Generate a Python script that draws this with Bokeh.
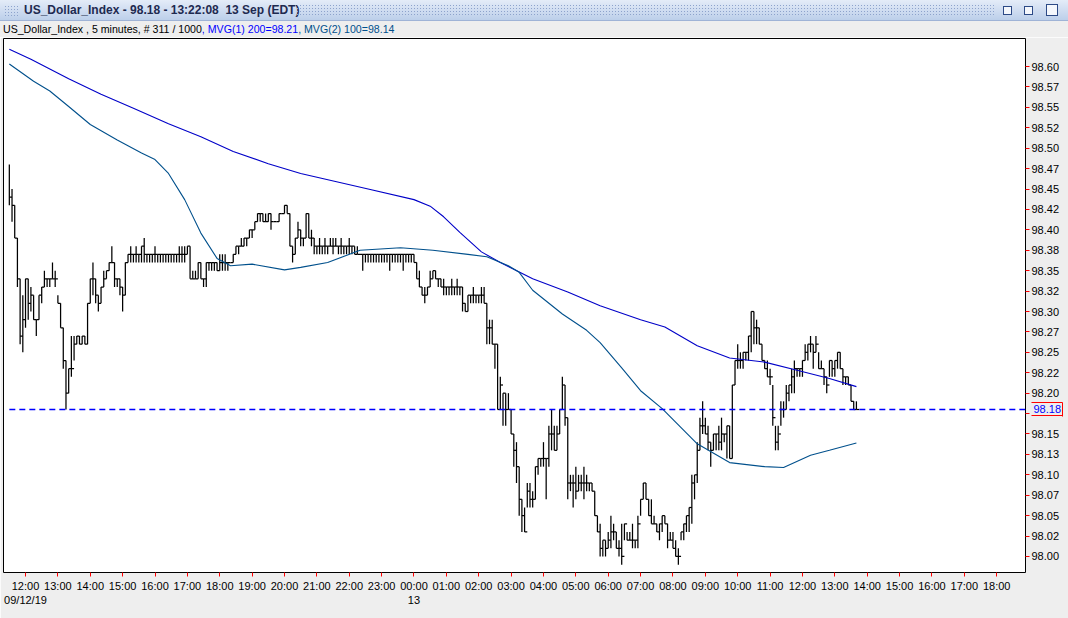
from bokeh.plotting import figure
from bokeh.models import FixedTicker, Div, Range1d, LinearAxis
from bokeh.layouts import column
from bokeh.embed import file_html
from bokeh.resources import INLINE

# ---------------- data (5-minute bars) ----------------
bar_high = [
    98.48, 98.45, 98.43, 98.39, 98.34, 98.32, 98.34, 98.34, 98.33, 98.32, 98.29, 98.32, 98.33, 98.35, 98.34,
    98.34, 98.36, 98.35, 98.32, 98.31, 98.28, 98.24, 98.23, 98.27, 98.27, 98.27, 98.27, 98.27, 98.27, 98.31,
    98.34, 98.36, 98.34, 98.32, 98.33, 98.35, 98.35, 98.36, 98.38, 98.36, 98.34, 98.34, 98.33, 98.36, 98.37,
    98.38, 98.37, 98.38, 98.37, 98.38, 98.39, 98.37, 98.37, 98.37, 98.38, 98.37, 98.37, 98.37, 98.37, 98.37,
    98.37, 98.37, 98.37, 98.38, 98.38, 98.38, 98.38, 98.38, 98.35, 98.35, 98.36, 98.36, 98.34, 98.36, 98.36,
    98.36, 98.36, 98.36, 98.37, 98.37, 98.37, 98.36, 98.36, 98.37, 98.38, 98.38, 98.39, 98.39, 98.39, 98.40,
    98.40, 98.41, 98.42, 98.42, 98.42, 98.42, 98.42, 98.42, 98.41, 98.41, 98.42, 98.42, 98.43, 98.43, 98.42,
    98.38, 98.39, 98.41, 98.40, 98.39, 98.42, 98.42, 98.40, 98.39, 98.38, 98.39, 98.38, 98.39, 98.38, 98.39,
    98.39, 98.39, 98.38, 98.39, 98.38, 98.38, 98.39, 98.38, 98.38, 98.38, 98.37, 98.37, 98.37, 98.37, 98.37,
    98.37, 98.37, 98.37, 98.37, 98.37, 98.37, 98.37, 98.37, 98.37, 98.37, 98.37, 98.37, 98.37, 98.37, 98.37,
    98.37, 98.36, 98.35, 98.33, 98.33, 98.33, 98.35, 98.35, 98.35, 98.34, 98.34, 98.34, 98.33, 98.33, 98.34,
    98.33, 98.34, 98.33, 98.33, 98.31, 98.32, 98.32, 98.33, 98.32, 98.32, 98.33, 98.33, 98.31, 98.29, 98.29,
    98.26, 98.26, 98.22, 98.20, 98.20, 98.20, 98.18, 98.15, 98.14, 98.11, 98.07, 98.06, 98.09, 98.09, 98.08,
    98.11, 98.12, 98.12, 98.14, 98.12, 98.16, 98.18, 98.16, 98.16, 98.18, 98.22, 98.21, 98.17, 98.10, 98.10,
    98.11, 98.10, 98.10, 98.11, 98.10, 98.09, 98.09, 98.08, 98.05, 98.04, 98.02, 98.02, 98.03, 98.05, 98.04,
    98.03, 98.02, 98.04, 98.04, 98.03, 98.03, 98.04, 98.02, 98.05, 98.07, 98.09, 98.09, 98.07, 98.07, 98.05,
    98.04, 98.04, 98.05, 98.05, 98.04, 98.03, 98.03, 98.02, 98.01, 98.03, 98.04, 98.05, 98.06, 98.10, 98.10,
    98.14, 98.17, 98.19, 98.17, 98.16, 98.14, 98.15, 98.15, 98.16, 98.17, 98.15, 98.16, 98.16, 98.21, 98.24,
    98.26, 98.25, 98.25, 98.25, 98.27, 98.30, 98.30, 98.29, 98.28, 98.26, 98.24, 98.24, 98.23, 98.21, 98.16,
    98.16, 98.19, 98.19, 98.21, 98.21, 98.23, 98.24, 98.23, 98.23, 98.24, 98.26, 98.26, 98.27, 98.26, 98.27,
    98.25, 98.24, 98.23, 98.22, 98.24, 98.24, 98.24, 98.25, 98.25, 98.23, 98.22, 98.22, 98.21, 98.19, 98.19,
]
bar_low = [
    98.43, 98.41, 98.39, 98.33, 98.26, 98.25, 98.28, 98.29, 98.30, 98.29, 98.27, 98.29, 98.31, 98.33, 98.33,
    98.33, 98.34, 98.33, 98.31, 98.28, 98.23, 98.18, 98.20, 98.22, 98.24, 98.26, 98.26, 98.26, 98.26, 98.26,
    98.31, 98.32, 98.31, 98.30, 98.31, 98.33, 98.34, 98.35, 98.36, 98.33, 98.33, 98.32, 98.30, 98.32, 98.36,
    98.36, 98.36, 98.36, 98.36, 98.36, 98.36, 98.36, 98.36, 98.36, 98.36, 98.36, 98.36, 98.36, 98.36, 98.36,
    98.36, 98.36, 98.36, 98.36, 98.36, 98.36, 98.37, 98.34, 98.34, 98.34, 98.34, 98.34, 98.33, 98.33, 98.35,
    98.35, 98.35, 98.35, 98.35, 98.35, 98.35, 98.35, 98.36, 98.36, 98.37, 98.37, 98.38, 98.38, 98.38, 98.39,
    98.39, 98.40, 98.41, 98.41, 98.41, 98.41, 98.41, 98.40, 98.41, 98.41, 98.41, 98.42, 98.42, 98.42, 98.38,
    98.36, 98.37, 98.39, 98.38, 98.38, 98.39, 98.39, 98.38, 98.37, 98.37, 98.37, 98.37, 98.37, 98.37, 98.38,
    98.37, 98.38, 98.37, 98.37, 98.37, 98.37, 98.37, 98.37, 98.37, 98.37, 98.37, 98.35, 98.36, 98.36, 98.36,
    98.36, 98.36, 98.36, 98.36, 98.36, 98.36, 98.35, 98.36, 98.36, 98.36, 98.36, 98.35, 98.36, 98.36, 98.36,
    98.36, 98.34, 98.33, 98.32, 98.31, 98.32, 98.33, 98.34, 98.34, 98.33, 98.33, 98.32, 98.32, 98.32, 98.32,
    98.32, 98.32, 98.32, 98.30, 98.30, 98.30, 98.31, 98.31, 98.31, 98.31, 98.31, 98.31, 98.26, 98.26, 98.26,
    98.23, 98.18, 98.18, 98.16, 98.16, 98.18, 98.15, 98.11, 98.09, 98.05, 98.03, 98.03, 98.06, 98.06, 98.06,
    98.07, 98.10, 98.11, 98.11, 98.07, 98.11, 98.13, 98.13, 98.13, 98.15, 98.18, 98.16, 98.07, 98.08, 98.06,
    98.07, 98.08, 98.08, 98.07, 98.08, 98.08, 98.08, 98.05, 98.03, 98.00, 98.00, 98.00, 98.01, 98.01, 98.02,
    98.01, 98.00, 97.99, 98.02, 98.02, 98.02, 98.01, 98.01, 98.01, 98.05, 98.07, 98.07, 98.05, 98.04, 98.04,
    98.03, 98.02, 98.03, 98.04, 98.01, 98.02, 98.01, 98.00, 97.99, 98.02, 98.02, 98.03, 98.03, 98.04, 98.07,
    98.09, 98.13, 98.15, 98.15, 98.13, 98.11, 98.13, 98.13, 98.13, 98.13, 98.14, 98.12, 98.12, 98.12, 98.21,
    98.23, 98.23, 98.23, 98.24, 98.24, 98.25, 98.26, 98.26, 98.26, 98.24, 98.23, 98.22, 98.21, 98.16, 98.13,
    98.13, 98.16, 98.17, 98.18, 98.19, 98.20, 98.20, 98.22, 98.22, 98.22, 98.24, 98.24, 98.25, 98.23, 98.25,
    98.23, 98.23, 98.21, 98.20, 98.22, 98.22, 98.22, 98.23, 98.23, 98.21, 98.21, 98.21, 98.19, 98.18, 98.18,
]
bar_close = [
    98.44, 98.43, 98.39, 98.34, 98.27, 98.29, 98.34, 98.31, 98.32, 98.29, 98.29, 98.32, 98.33, 98.34, 98.34,
    98.34, 98.34, 98.34, 98.31, 98.28, 98.24, 98.20, 98.23, 98.23, 98.26, 98.27, 98.26, 98.27, 98.26, 98.31,
    98.34, 98.34, 98.32, 98.31, 98.33, 98.34, 98.35, 98.36, 98.36, 98.34, 98.34, 98.33, 98.32, 98.36, 98.37,
    98.37, 98.37, 98.37, 98.37, 98.38, 98.37, 98.37, 98.37, 98.37, 98.37, 98.37, 98.37, 98.37, 98.37, 98.37,
    98.37, 98.37, 98.37, 98.37, 98.37, 98.37, 98.38, 98.34, 98.34, 98.34, 98.36, 98.34, 98.34, 98.36, 98.36,
    98.36, 98.36, 98.35, 98.36, 98.36, 98.36, 98.36, 98.36, 98.37, 98.38, 98.38, 98.38, 98.39, 98.39, 98.40,
    98.40, 98.41, 98.42, 98.42, 98.41, 98.41, 98.42, 98.41, 98.41, 98.41, 98.42, 98.42, 98.43, 98.42, 98.38,
    98.37, 98.39, 98.40, 98.39, 98.39, 98.42, 98.39, 98.39, 98.38, 98.38, 98.38, 98.38, 98.38, 98.38, 98.38,
    98.38, 98.38, 98.38, 98.38, 98.38, 98.38, 98.38, 98.38, 98.37, 98.37, 98.37, 98.37, 98.37, 98.37, 98.37,
    98.37, 98.37, 98.37, 98.37, 98.37, 98.37, 98.37, 98.37, 98.37, 98.37, 98.37, 98.37, 98.37, 98.37, 98.37,
    98.36, 98.34, 98.33, 98.32, 98.32, 98.33, 98.34, 98.35, 98.34, 98.34, 98.33, 98.33, 98.33, 98.33, 98.33,
    98.33, 98.33, 98.33, 98.31, 98.30, 98.32, 98.32, 98.32, 98.32, 98.32, 98.32, 98.31, 98.28, 98.28, 98.26,
    98.26, 98.18, 98.21, 98.20, 98.18, 98.18, 98.15, 98.13, 98.11, 98.07, 98.05, 98.03, 98.08, 98.07, 98.07,
    98.11, 98.12, 98.12, 98.12, 98.12, 98.15, 98.15, 98.13, 98.15, 98.18, 98.21, 98.17, 98.09, 98.09, 98.09,
    98.08, 98.09, 98.09, 98.09, 98.09, 98.09, 98.08, 98.05, 98.03, 98.01, 98.02, 98.01, 98.02, 98.03, 98.03,
    98.01, 98.01, 98.00, 98.04, 98.02, 98.02, 98.02, 98.02, 98.04, 98.07, 98.09, 98.07, 98.05, 98.04, 98.04,
    98.03, 98.04, 98.05, 98.04, 98.02, 98.02, 98.01, 98.00, 98.00, 98.03, 98.04, 98.05, 98.06, 98.09, 98.10,
    98.13, 98.16, 98.16, 98.15, 98.14, 98.13, 98.15, 98.15, 98.14, 98.15, 98.15, 98.16, 98.12, 98.21, 98.24,
    98.24, 98.24, 98.25, 98.25, 98.27, 98.30, 98.28, 98.28, 98.26, 98.24, 98.23, 98.22, 98.22, 98.17, 98.14,
    98.15, 98.18, 98.18, 98.20, 98.21, 98.22, 98.23, 98.23, 98.23, 98.24, 98.25, 98.26, 98.26, 98.25, 98.26,
    98.23, 98.23, 98.22, 98.21, 98.24, 98.23, 98.24, 98.25, 98.23, 98.22, 98.22, 98.21, 98.19, 98.18, 98.18,
]
first_bar_hour = -0.5          # 11:30 on 09/12/19, hours relative to 12:00
bar_minutes = 5

# moving averages, sampled at bar indices
mvg200_idx = [0, 8, 22, 34, 46, 59, 71, 83, 96, 108, 133, 150, 156, 161, 167, 175, 182, 194, 207, 219,
              234, 243, 255, 267, 280, 292, 304, 314]
mvg200_val = [98.621, 98.609, 98.585, 98.566, 98.549, 98.530, 98.514, 98.496, 98.481, 98.469, 98.450,
              98.437, 98.429, 98.416, 98.397, 98.373, 98.360, 98.340, 98.324, 98.307, 98.290, 98.281,
              98.258, 98.243, 98.238, 98.228, 98.218, 98.208]
mvg100_idx = [0, 9, 15, 22, 30, 40, 49, 54, 59, 65, 71, 77, 82, 90, 102, 108, 118, 130, 145, 157, 170,
              177, 185, 189, 194, 205, 214, 219, 227, 234, 242, 255, 267, 280, 287, 297, 304, 314]
mvg100_val = [98.603, 98.582, 98.570, 98.551, 98.529, 98.510, 98.494, 98.486, 98.469, 98.437, 98.396,
              98.365, 98.356, 98.358, 98.351, 98.354, 98.360, 98.375, 98.378, 98.375, 98.370, 98.367,
              98.356, 98.348, 98.326, 98.297, 98.277, 98.262, 98.231, 98.203, 98.181, 98.138, 98.115,
              98.110, 98.109, 98.124, 98.130, 98.139]
last_price = 98.18

x_tick_hours = list(range(31))
x_tick_labels = ["12:00\n09/12/19", "13:00", "14:00", "15:00", "16:00", "17:00", "18:00", "19:00",
                 "20:00", "21:00", "22:00", "23:00", "00:00\n13", "01:00", "02:00", "03:00", "04:00",
                 "05:00", "06:00", "07:00", "08:00", "09:00", "10:00", "11:00", "12:00", "13:00",
                 "14:00", "15:00", "16:00", "17:00", "18:00"]
y_tick_labels = ["98.00", "98.02", "98.05", "98.07", "98.10", "98.13", "98.15", "98.17", "98.20",
                 "98.22", "98.25", "98.27", "98.30", "98.32", "98.35", "98.38", "98.40", "98.42",
                 "98.45", "98.47", "98.50", "98.52", "98.55", "98.57", "98.60"]
y_tick_values = [98.0 + 0.025 * k for k in range(len(y_tick_labels))]
last_price_label = "98.18"

title_text = "US_Dollar_Index - 98.18 - 13:22:08&nbsp;&nbsp;13 Sep (EDT)"
info_black = "US_Dollar_Index , 5 minutes, # 311 / 1000"
info_mvg1 = ", MVG(1) 200=98.21"
info_mvg2 = ", MVG(2) 100=98.14"

FONT = "Liberation Sans"

# ---------------- derived x positions ----------------
step = bar_minutes / 60.0
bar_x = [first_bar_hour + i * step for i in range(len(bar_close))]
bar_x_next = [x + step for x in bar_x]
mvg200_x = [first_bar_hour + i * step for i in mvg200_idx]
mvg100_x = [first_bar_hour + i * step for i in mvg100_idx]

X_START, X_END = -0.68, 30.89
Y_START, Y_END = 97.9804, 98.6343

p = figure(width=1068, height=581, output_backend="svg", toolbar_location=None,
           x_range=Range1d(X_START, X_END), y_range=Range1d(Y_START, Y_END),
           y_axis_location="right", min_border_top=1, min_border_left=3,
           min_border_right=43, min_border_bottom=46, margin=(0, 0, 0, 0))
p.background_fill_color = "white"
p.border_fill_color = "#eeeeee"
p.outline_line_color = "black"
p.outline_line_width = 1
p.xgrid.visible = False
p.ygrid.visible = False

# OHLC bars: high-low stems and close ticks
p.segment(x0=bar_x, y0=bar_low, x1=bar_x, y1=bar_high, line_color="black", line_width=1.25)
p.segment(x0=bar_x, y0=bar_close, x1=bar_x_next, y1=bar_close, line_color="black", line_width=1.25)

# moving averages
p.line(mvg200_x, mvg200_val, line_color="#0000c8", line_width=1.1)
p.line(mvg100_x, mvg100_val, line_color="#00508c", line_width=1.1)

# last price dashed line
p.line([bar_x[0], X_END], [last_price, last_price], line_color="#0000ff", line_alpha=1.0,
       line_width=1.6, line_dash="6 4")

# axes
xa = p.xaxis[0]
xa.ticker = FixedTicker(ticks=x_tick_hours)
xa.major_label_overrides = dict(zip(x_tick_hours, x_tick_labels))
xa.axis_line_color = None
xa.major_tick_line_color = "red"
xa.major_tick_in = 0
xa.major_tick_out = 4
xa.minor_tick_line_color = None
xa.major_label_text_font = FONT
xa.major_label_text_font_size = "11px"
xa.major_label_text_color = "black"
xa.major_label_standoff = 3

# price axis; the label hidden under the current-price box is left blank
px_per_price = 534 / (Y_END - Y_START)
y_overrides = {}
for v, lab in zip(y_tick_values, y_tick_labels):
    hidden = abs(v - last_price) * px_per_price < 7
    y_overrides[v] = "" if hidden else lab

ya = p.yaxis[0]
ya.ticker = FixedTicker(ticks=y_tick_values)
ya.major_label_overrides = y_overrides
ya.axis_line_color = None
ya.major_tick_line_color = "red"
ya.major_tick_in = 0
ya.major_tick_out = 4
ya.minor_tick_line_color = None
ya.major_label_text_font = FONT
ya.major_label_text_font_size = "11px"
ya.major_label_text_color = "black"
ya.major_label_standoff = 2

# current-price box: a second, label-only axis whose bounded axis line and
# inward minor ticks draw the red frame, and whose one label is the price
half_box = 6.5 / px_per_price
pa = LinearAxis(ticker=FixedTicker(ticks=[last_price],
                                   minor_ticks=[last_price - half_box, last_price + half_box]),
                major_label_overrides={last_price: last_price_label},
                bounds=(last_price - half_box - 0.0004, last_price + half_box + 0.0004))
pa.axis_line_color = "red"
pa.axis_line_width = 1
pa.major_tick_line_color = None
pa.major_tick_in = 0
pa.major_tick_out = 0
pa.minor_tick_line_color = "red"
pa.minor_tick_line_width = 1
pa.minor_tick_in = 31
pa.minor_tick_out = 0
pa.major_label_text_font = FONT
pa.major_label_text_font_size = "11px"
pa.major_label_text_color = "#0000ff"
pa.major_label_standoff = -29
p.add_layout(pa, "right")

dots = ("background-image:radial-gradient(#8da3cc 0.7px, transparent 0.9px);"
        "background-size:3px 3px;")
title_div = Div(width=1068, height=21, margin=(0, 0, 0, 0), text=(
    '<div style="position:relative;width:1068px;height:21px;box-sizing:border-box;'
    'background:linear-gradient(#e4ecf8,#bccfea);border-bottom:1px solid #9fb3d6;'
    'font-family:\'Liberation Sans\';white-space:nowrap;">'
    '<div style="position:absolute;left:4px;top:5px;width:14px;height:11px;' + dots + '"></div>'
    '<div style="position:absolute;left:24px;top:0px;line-height:20px;font-weight:bold;'
    'font-size:12px;color:#1e2a50;">' + title_text + '</div>'
    '<div style="position:absolute;left:296px;top:4px;width:700px;height:12px;' + dots + '"></div>'
    '<div style="position:absolute;left:1003px;top:6px;width:9px;height:9px;'
    'border:1px solid #2c4a86;background:#f4f7fc;"></div>'
    '<div style="position:absolute;left:1024px;top:6px;width:9px;height:9px;'
    'border:1px solid #2c4a86;background:#f4f7fc;"></div>'
    '<div style="position:absolute;left:1046px;top:4px;width:12px;height:12px;'
    'border:1px solid #2c4a86;background:#f4f7fc;"></div>'
    '</div>'))
info_div = Div(width=1068, height=16, margin=(0, 0, 0, 0), text=(
    '<div style="width:1068px;height:16px;background:#eeeeee;font-family:\'Liberation Sans\';'
    'font-size:10.6px;line-height:17px;padding-left:3px;box-sizing:border-box;'
    'white-space:nowrap;color:black;">' + info_black +
    '<span style="color:#0000ff">' + info_mvg1 + '</span>'
    '<span style="color:#00508c">' + info_mvg2 + '</span></div>'))

layout = column(title_div, info_div, p, spacing=0, margin=(0, 0, 0, 0))

open("out.html", "w").write(file_html(layout, INLINE))
